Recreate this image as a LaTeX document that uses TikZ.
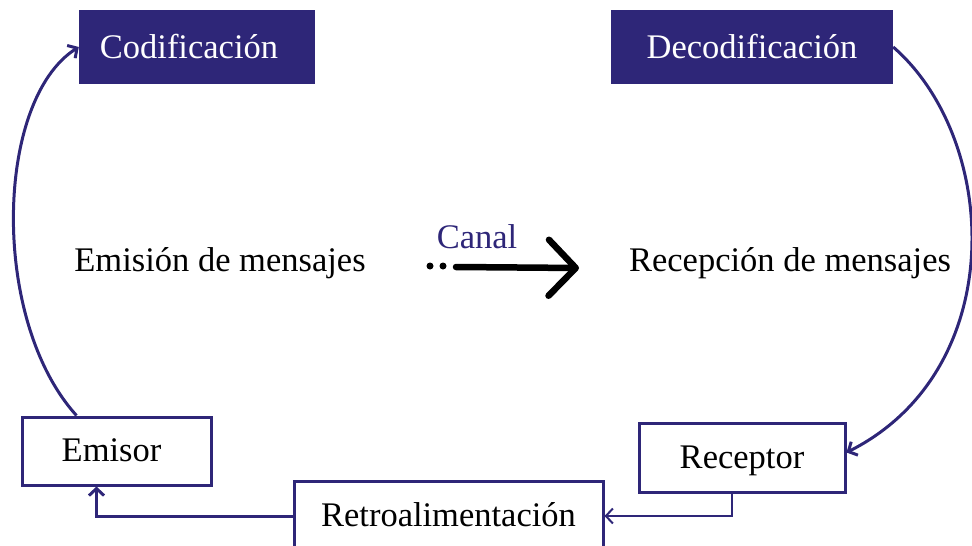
\documentclass[tikz,border=0pt]{standalone}
\usepackage{fontspec}
\setmainfont{Liberation Serif}
\usetikzlibrary{arrows.meta,calc}
\definecolor{navy}{RGB}{46,38,120}
\begin{document}
\begin{tikzpicture}[x=1pt,y=-1pt,
  every node/.style={font=\fontsize{34.5}{40}\selectfont},
  fillbox/.style={fill=navy, text=white, inner sep=0pt, text height=23pt, text depth=0pt},
  linebox/.style={draw=navy, line width=3pt, fill=white, text=black, inner sep=0pt, text height=21pt, text depth=0pt},
  conn/.style={draw=navy, line width=3pt, -{Straight Barb[length=7pt,width=15pt]}},
  dotnode/.style={circle, fill=black, inner sep=0pt, minimum size=7pt}
]
\useasboundingbox (0,0) rectangle (972,546);

\node[fillbox, minimum width=236pt, minimum height=74pt] (codif) at (197,47) {\hspace*{-16pt}Codificación};
\node[fillbox, minimum width=282pt, minimum height=74pt] (decod) at (752,47) {Decodificación};

\node[anchor=base] (emision) at (220,271) {Emisión de mensajes};
\node[anchor=base] (recepcion) at (790,271) {Recepción de mensajes};
\node[anchor=base, text=navy] (canal) at (477,248) {Canal};

\node[dotnode] (d1) at (430,266) {};
\node[dotnode] (d2) at (443,266) {};
\coordinate (cs) at (456,267);
\coordinate (ce) at (579,268);
\draw[line width=6.5pt, line cap=round, -{Straight Barb[length=27pt,width=56pt,round]}] (cs) -- (ce);

\node[linebox, minimum width=189pt, minimum height=68pt] (emisor) at (116.5,451) {\hspace*{-10pt}Emisor};
\node[linebox, minimum width=206pt, minimum height=69pt] (receptor) at (742,457.5) {Receptor};
\node[linebox, minimum width=309pt, minimum height=70pt] (retro) at (448.5,516) {Retroalimentación};

\draw[conn] ($(emisor.north west)+(56,0)$) .. controls (-10,320) and (-5,100) .. (codif.west);
\draw[conn] (decod.east) .. controls (1000,140) and (1010,370) .. ($(receptor.east)+(0,-5)$);
\draw[conn, line width=2pt] ($(receptor.south west)+(94,0)$) |- (retro.east);
\draw[conn] (retro.west) -| ($(emisor.south west)+(76,0)$);
\end{tikzpicture}
\end{document}
